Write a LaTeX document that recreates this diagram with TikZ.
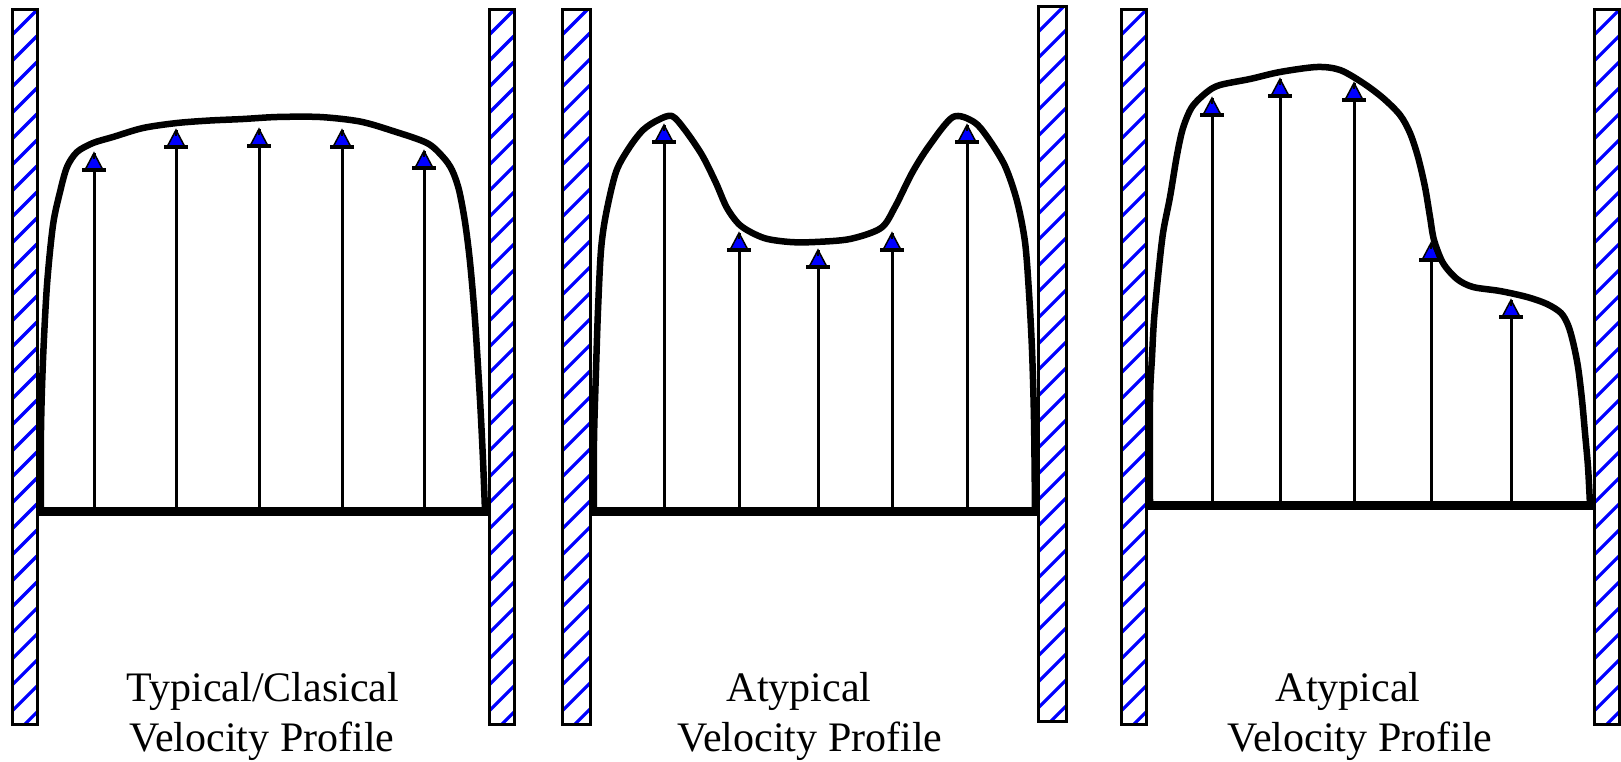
\documentclass[tikz,border=0pt]{standalone}
\usepackage{fontspec}
\setmainfont{Liberation Serif}
\usetikzlibrary{calc}
\definecolor{hatchblue}{RGB}{0,0,255}
\tikzset{
  wallline/.style={draw=black,line width=3pt,fill=white},
  hatchline/.style={draw=hatchblue,line width=3.2pt},
  profile/.style={draw=black,line width=6.5pt,line join=round,line cap=round},
  floorline/.style={draw=black,line width=9pt},
  shaft/.style={draw=black,line width=3pt},
  headtri/.style={fill=hatchblue,draw=black,line width=1.5pt,line join=miter},
  headbar/.style={draw=black,line width=4pt},
  caption/.style={font=\fontsize{42}{48}\selectfont,anchor=base,inner sep=0pt,text=black},
}
\newcommand{\hatchwall}[4]{%
  \fill[white] (#1,#2) rectangle (#3,#4);
  \begin{scope}
    \clip (#1,#2) rectangle (#3,#4);
    \pgfmathsetmacro{\ww}{#3-#1}
    \foreach \k in {0,...,30} {
      \pgfmathsetmacro{\yy}{#2+26*\k}
      \draw[hatchline] (#1,\yy) -- ++(\ww,-\ww);
    }
  \end{scope}
  \draw[wallline,fill=none] (#1,#2) rectangle (#3,#4);
}
\newcommand{\varrow}[4]{%
  \coordinate (#1b) at (#2,#3);
  \coordinate (#1t) at (#2,#4);
  \draw[shaft] (#1b) -- (#1t);
  \filldraw[headtri] ($(#1t)+(-9,17)$) -- (#1t) -- ($(#1t)+(9,17)$) -- cycle;
  \draw[headbar] ($(#1t)+(-12,17)$) -- ($(#1t)+(12,17)$);
  \draw[black,line width=2pt] (#1t) -- ++(0,6);
}
\begin{document}
\begin{tikzpicture}[x=1pt,y=-1pt]
\useasboundingbox (0,0) rectangle (1621,761);
\fill[white] (0,0) rectangle (1621,761);

% ---------- walls ----------
\hatchwall{12}{9}{37}{724}
\hatchwall{489}{9}{514}{724}
\hatchwall{562}{9}{590}{724}
\hatchwall{1038}{6}{1066}{721}
\hatchwall{1121}{9}{1146}{724}
\hatchwall{1594}{9}{1619}{724}

% ---------- panel 1 ----------
\varrow{a1}{94}{511}{153}
\varrow{a2}{176}{511}{130}
\varrow{a3}{259}{511}{129}
\varrow{a4}{342}{511}{130}
\varrow{a5}{424}{511}{151}
\coordinate (f1l) at (38,511);
\coordinate (f1r) at (488,511);
\draw[floorline] (f1l) -- (f1r);
\draw[profile] plot[smooth,tension=0.5] coordinates {
 (41,511) (41,430) (43,360) (47,285) (53,225) (60,192) (67,167) (77,152)
 (93,143) (113,137) (143,128) (177,123) (210,120.5) (243,119) (277,117)
 (320,117) (360,121.5) (393,131) (427,143) (443,157) (452,170) (459,190)
 (465,222) (470,262) (475,320) (480,400) (483,460) (485,511)};
\node[caption] (c1a) at (263,701) {Typical/Clasical};
\node[caption] (c1b) at (262,751) {Velocity Profile};

% ---------- panel 2 ----------
\varrow{b1}{664}{511}{125}
\varrow{b2}{739}{511}{233}
\varrow{b3}{818}{511}{250}
\varrow{b4}{892}{511}{233}
\varrow{b5}{967}{511}{125}
\coordinate (f2l) at (590,511);
\coordinate (f2r) at (1037,511);
\draw[floorline] (f2l) -- (f2r);
\draw[profile] plot[smooth,tension=0.5] coordinates {
 (594,511) (594,440) (596,370) (598,310) (601,250) (606,214) (616,172)
 (629,148) (643,130) (658,120) (672,116) (685,130) (702,155) (716,183)
 (727,208) (741,226) (764,238) (790,242) (815,242) (850,239) (881,228)
 (895,207) (912,173) (929,146) (953,117) (974,122) (988,138) (1005,166)
 (1017,201) (1025,242) (1029,293) (1032,350) (1034,420) (1035,511)};
\node[caption] (c2a) at (799,701) {Atypical};
\node[caption] (c2b) at (810,751) {Velocity Profile};

% ---------- panel 3 ----------
\varrow{d1}{1212}{505}{98}
\varrow{d2}{1280}{505}{79}
\varrow{d3}{1354}{505}{83}
\varrow{d4}{1431}{505}{243}
\varrow{d5}{1511}{505}{300}
\coordinate (f3l) at (1146,505);
\coordinate (f3r) at (1593,505);
\draw[floorline] (f3l) -- (f3r);
\draw[profile] plot[smooth,tension=0.5] coordinates {
 (1150,505) (1150,400) (1152,357) (1154,320) (1158,277) (1163,233)
 (1170,197) (1177,155) (1183,128) (1192,107) (1207,92) (1220,85)
 (1250,79) (1280,72) (1317,67) (1340,70) (1363,83) (1383,98) (1400,115)
 (1410,133) (1418,157) (1425,187) (1430,217) (1434,240) (1443,263)
 (1457,279) (1473,287) (1500,291) (1527,297) (1547,304) (1561,313)
 (1568,325) (1573,342) (1578,367) (1582,400) (1585,433) (1588,467) (1590,505)};
\node[caption] (c3a) at (1348,701) {Atypical};
\node[caption] (c3b) at (1360,751) {Velocity Profile};
\end{tikzpicture}
\end{document}
